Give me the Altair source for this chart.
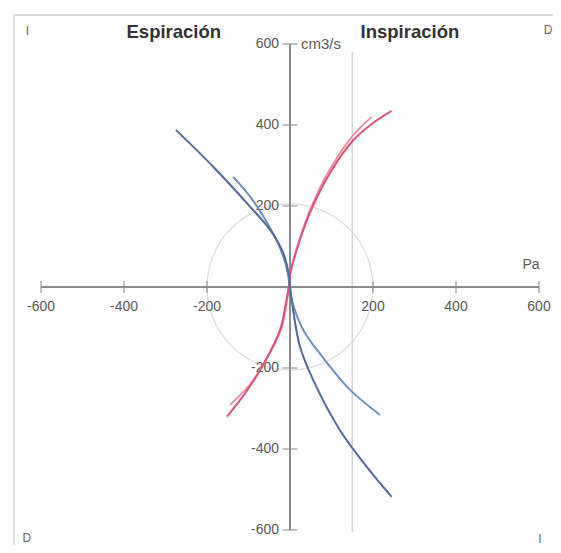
import altair as alt
import pandas as pd

# ---- data (Pa, cm3/s) ----
blue_a_x = [-275, -185, -96, -48, -16, -2, 0, 4, 24, 56, 120, 185, 245]
blue_a_y = [388, 297, 198, 141, 83, 25, 0, -32, -147, -230, -353, -444, -518]

blue_b_x = [-137, -96, -64, -30, -10, 0, 4, 32, 80, 145, 217]
blue_b_y = [272, 223, 174, 110, 55, 0, -30, -106, -175, -254, -316]

pink_a_x = [245, 200, 153, 96, 48, 16, 0, -3, -10, -24, -72, -110, -152]
pink_a_y = [435, 405, 363, 281, 183, 91, 30, 0, -40, -106, -205, -265, -320]

pink_b_x = [197, 150, 96, 48, 16, 0, -3, -8, -20, -60, -100, -145]
pink_b_y = [420, 372, 290, 190, 95, 30, 0, -40, -100, -185, -245, -291]

x_ticks = [-600, -400, -200, 200, 400, 600]
y_ticks = [600, 400, 200, -200, -400, -600]
x_tick_labels = ["-600", "-400", "-200", "200", "400", "600"]
y_tick_labels = ["600", "400", "200", "-200", "-400", "-600"]

circle_radius = 200
guide_x = 150

titles = ["Espiración", "Inspiración"]
corners = ["I", "D", "D", "I"]

# ---- layout ----
W, H = 545, 537
X0, SX = 282, 0.415
Y0, SY = 279, 0.405
x_dom = [-X0 / SX, (W - X0) / SX]
y_dom = [-(H - Y0) / SY, Y0 / SY]
xs = alt.Scale(domain=x_dom, nice=False, zero=False)
ys = alt.Scale(domain=y_dom, nice=False, zero=False)


def X(f="x"):
    return alt.X(f"{f}:Q", scale=xs, axis=None)


def Y(f="y"):
    return alt.Y(f"{f}:Q", scale=ys, axis=None)


FONT = "Liberation Sans Narrow, Arial Narrow, Liberation Sans, Arial, sans-serif"
AX = "#8c8c8c"
TXT = "#5a5a5a"

# frame
frame_top = alt.Chart(pd.DataFrame({"x": [x_dom[0] + 6 / SX], "x2": [x_dom[1]], "y": [y_dom[1] - 7 / SY]})).mark_rule(
    color="#d6d6d6", strokeWidth=2).encode(x=X(), x2="x2", y=Y())
frame_left = alt.Chart(pd.DataFrame({"x": [x_dom[0] + 6 / SX], "y": [y_dom[1] - 7 / SY], "y2": [y_dom[0]]})).mark_rule(
    color="#dcdcdc", strokeWidth=1.5).encode(x=X(), y=Y(), y2="y2")

# guides
circle = alt.Chart(pd.DataFrame({"x": [0], "y": [0]})).mark_point(
    shape="circle", size=(2 * circle_radius * SX) ** 2, filled=False, stroke="#dedede", strokeWidth=1.3, opacity=1
).encode(x=X(), y=Y())
vguide = alt.Chart(pd.DataFrame({"x": [guide_x], "y": [580], "y2": [-605]})).mark_rule(
    color="#d4d4d4", strokeWidth=1.5).encode(x=X(), y=Y(), y2="y2")

# axes
xaxis = alt.Chart(pd.DataFrame({"x": [-600], "x2": [600], "y": [0]})).mark_rule(
    color=AX, strokeWidth=2).encode(x=X(), x2="x2", y=Y())
yaxis = alt.Chart(pd.DataFrame({"x": [0], "y": [-600], "y2": [600]})).mark_rule(
    color=AX, strokeWidth=2).encode(x=X(), y=Y(), y2="y2")
xtick = alt.Chart(pd.DataFrame({"x": x_ticks, "y": [0] * len(x_ticks)})).mark_tick(
    orient="vertical", size=12, thickness=1.5, color=AX).encode(x=X(), y=Y())
ytick = alt.Chart(pd.DataFrame({"x": [0] * len(y_ticks), "y": y_ticks})).mark_tick(
    orient="horizontal", size=15, thickness=1.5, color=AX).encode(x=X(), y=Y())

xlab = alt.Chart(pd.DataFrame({"x": x_ticks, "y": [0] * len(x_ticks), "t": x_tick_labels})).mark_text(
    font=FONT, fontSize=14, color=TXT, dy=20, align="center", baseline="middle").encode(x=X(), y=Y(), text="t:N")
ylab = alt.Chart(pd.DataFrame({"x": [0] * len(y_ticks), "y": y_ticks, "t": y_tick_labels})).mark_text(
    font=FONT, fontSize=14, color=TXT, dx=-11, align="right", baseline="middle").encode(x=X(), y=Y(), text="t:N")
unit_y = alt.Chart(pd.DataFrame({"x": [0], "y": [600], "t": ["cm3/s"]})).mark_text(
    font=FONT, fontSize=15, color=TXT, dx=11, align="left", baseline="middle").encode(x=X(), y=Y(), text="t:N")
unit_x = alt.Chart(pd.DataFrame({"x": [600], "y": [0], "t": ["Pa"]})).mark_text(
    font=FONT, fontSize=14, color=TXT, dx=-8, dy=-22, align="center", baseline="middle").encode(x=X(), y=Y(), text="t:N")

title_df = pd.DataFrame({"x": [-280, 289], "y": [629, 629], "t": titles})
title_txt = alt.Chart(title_df).mark_text(
    font="Liberation Sans, Arial, sans-serif", fontSize=18.5, fontWeight="bold", color="#333333",
    align="center", baseline="middle").encode(x=X(), y=Y(), text="t:N")

corner_df = pd.DataFrame({"x": [-633, 622, -634, 602], "y": [632, 635, -620, -622], "t": corners})
corner_txt = alt.Chart(corner_df).mark_text(
    font="Liberation Sans, Arial, sans-serif", fontSize=12, color="#666666",
    align="center", baseline="middle").encode(x=X(), y=Y(), text="t:N")


def curve(xv, yv, color, w=2.0):
    df = pd.DataFrame({"x": xv, "y": yv, "i": list(range(len(xv)))})
    return alt.Chart(df).mark_line(color=color, strokeWidth=w, interpolate="catmull-rom").encode(
        x=X(), y=Y(), order="i:Q")


curves = [
    curve(pink_b_x, pink_b_y, "#ec8aa2", 1.8),
    curve(pink_a_x, pink_a_y, "#dc5479", 2.0),
    curve(blue_b_x, blue_b_y, "#6d90bd", 2.0),
    curve(blue_a_x, blue_a_y, "#53699c", 2.0),
]

chart = alt.layer(
    frame_top, frame_left, circle, vguide, xaxis, yaxis, xtick, ytick,
    xlab, ylab, unit_y, unit_x, title_txt, corner_txt, *curves
).properties(width=W, height=H).configure_view(stroke=None).properties(
    padding=0, autosize=alt.AutoSizeParams(type="none"))

chart.save("out.html", embed_options={"renderer": "svg", "actions": False})
